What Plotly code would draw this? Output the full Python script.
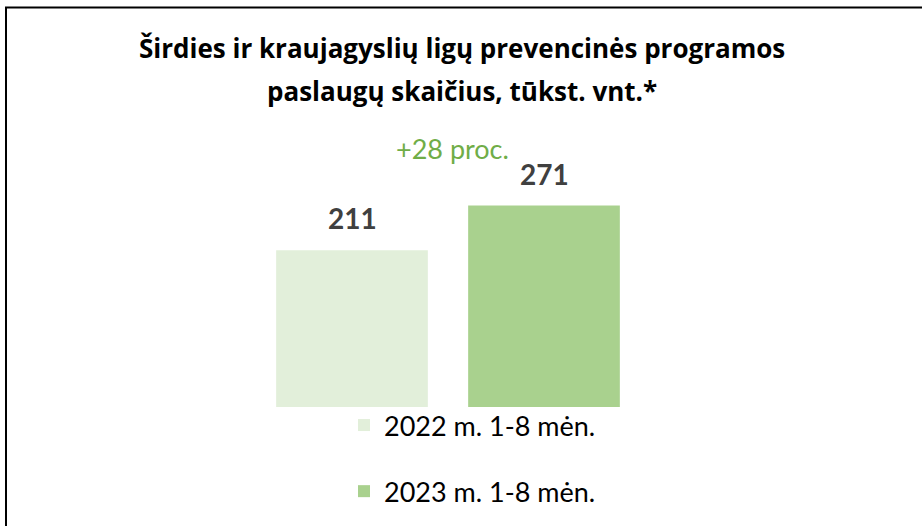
import plotly.graph_objects as go

# Data
periods = ["2022 m. 1-8 mėn.", "2023 m. 1-8 mėn."]
values = [211, 271]
colors = ["#E2EFDA", "#A9D18E"]
title_lines = ["Širdies ir kraujagyslių ligų prevencinės programos",
               "paslaugų skaičius, tūkst. vnt.*"]

W, H = 922, 526
ML, MR, MT, MB = 256, 282, 184, 119
PW = W - ML - MR
PH = H - MT - MB


def px_x(px):
    return (px - ML) / PW


def px_y(py):
    return (H - MB - py) / PH


FONT = "Lato"
TFONT = "Open Sans"

fig = go.Figure()
for i, (name, val, col) in enumerate(zip(periods, values, colors)):
    fig.add_trace(go.Bar(
        x=[i], y=[val], name=name, width=0.79,
        marker=dict(color=col, line=dict(width=0)),
        legendgroup=f"g{i}", hoverinfo="skip",
    ))
    fig.add_annotation(x=i, y=val, xref="x", yref="y", text=f"<b>{val}</b>",
                       showarrow=False, yanchor="bottom", yshift=13,
                       font=dict(family=FONT, size=28, color="#404040"))

pct = round((values[1] / values[0] - 1) * 100)
fig.add_annotation(x=px_x(452), y=px_y(148), xref="paper", yref="paper",
                   text=f"+{pct} proc.", showarrow=False,
                   xanchor="center", yanchor="middle",
                   font=dict(family=FONT, size=27, color="#70AD47"))

for line, cy in zip(title_lines, [48, 91]):
    fig.add_annotation(x=px_x(462), y=px_y(cy), xref="paper", yref="paper",
                       text=f"<b>{line}</b>", showarrow=False,
                       xanchor="center", yanchor="middle",
                       font=dict(family=TFONT, size=26, color="#000000"))

# Frame (left and top edges visible)
fig.add_shape(type="rect", xref="paper", yref="paper",
              x0=px_x(6), x1=px_x(935), y0=px_y(545), y1=px_y(7.5),
              line=dict(color="#000000", width=2), fillcolor="rgba(0,0,0,0)")

fig.update_layout(
    width=W, height=H,
    margin=dict(l=ML, r=MR, t=MT, b=MB, pad=0, autoexpand=False),
    paper_bgcolor="white", plot_bgcolor="white",
    barmode="overlay",
    showlegend=True,
    legend=dict(orientation="v", xref="container", yref="container",
                x=344 / W, y=1 - 401 / H,
                xanchor="left", yanchor="top",
                traceorder="grouped", tracegroupgap=28,
                font=dict(family=FONT, size=27, color="#000000"),
                bgcolor="rgba(0,0,0,0)"),
    xaxis=dict(visible=False, range=[-0.5, 1.5], fixedrange=True),
    yaxis=dict(visible=False, range=[0, 300], fixedrange=True),
)

fig.write_html("out.html", config={"displayModeBar": False},
               post_script="document.body.style.margin='0px';")
